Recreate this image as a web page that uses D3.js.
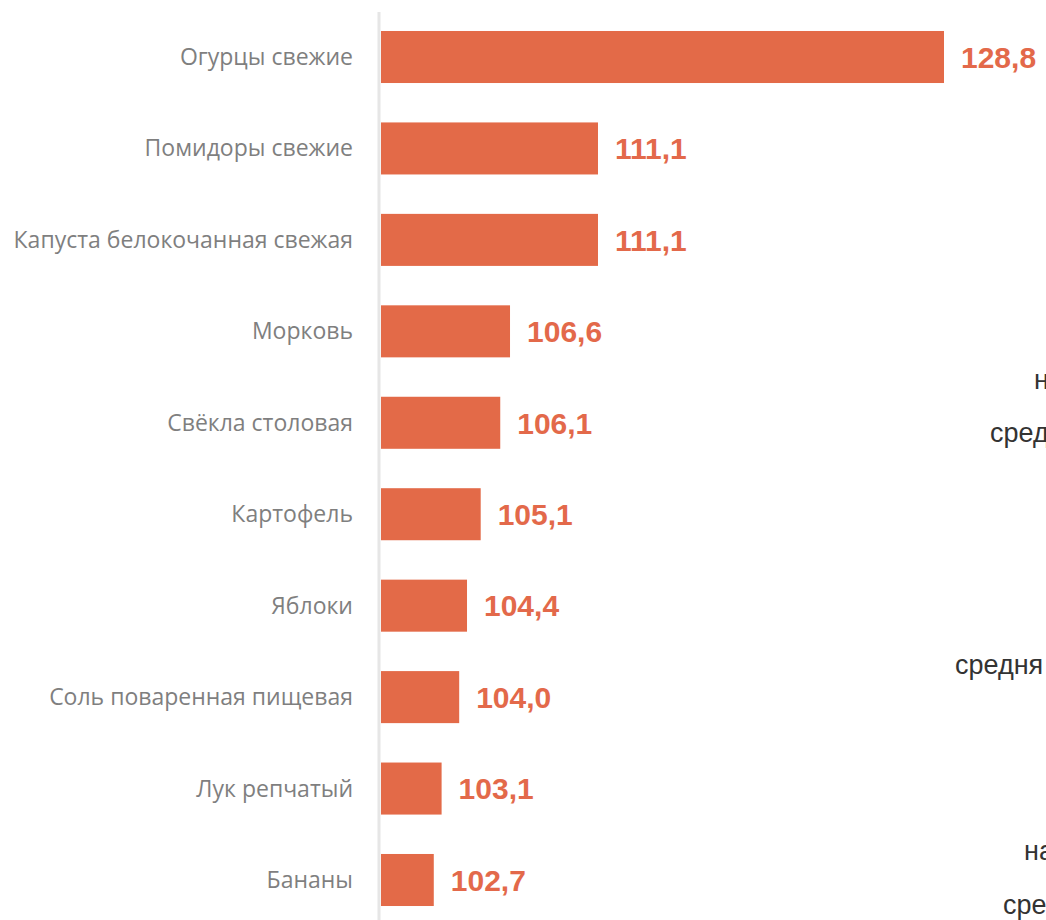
<!DOCTYPE html>
<html><head><meta charset="utf-8">
<script src="https://cdn.jsdelivr.net/npm/d3@7"></script>
<style>html,body{margin:0;padding:0;background:#fff;overflow:hidden}</style>
</head><body>
<svg id="c" width="1046" height="920"></svg>
<script>
const categories = ["Огурцы свежие","Помидоры свежие","Капуста белокочанная свежая","Морковь","Свёкла столовая","Картофель","Яблоки","Соль поваренная пищевая","Лук репчатый","Бананы"];
const values = [128.8,111.1,111.1,106.6,106.1,105.1,104.4,104.0,103.1,102.7];
const sideTexts = ["н","сред","средня","на","сре"];
const sideX = [1034,990,955,1024,1003];
const sideY = [380,433,665,851,905];

const svg = d3.select("#c");
const x = d3.scaleLinear().domain([100,128.8]).range([381,944]);
const y = d3.scaleBand().domain(categories).range([12.7,924.3]).paddingInner(0.431).paddingOuter(0.2);

svg.append("line").attr("x1",379).attr("x2",379).attr("y1",12).attr("y2",920)
  .attr("stroke","#e6e6e6").attr("stroke-width",3);

svg.selectAll("rect.bar").data(categories).join("rect").attr("class","bar")
  .attr("x",x(100)).attr("y",d=>y(d)).attr("width",(d,i)=>x(values[i])-x(100))
  .attr("height",y.bandwidth()).attr("fill","#e36a48");

svg.selectAll("text.cat").data(categories).join("text").attr("class","cat")
  .attr("x",353).attr("y",d=>y(d)+y.bandwidth()/2).attr("dy","0.35em")
  .attr("text-anchor","end").attr("font-family","'Open Sans', sans-serif")
  .attr("font-size",23).attr("fill","#7f7f7f").text(d=>d);

const fmt = v => v.toFixed(1).replace(".",",");
svg.selectAll("text.val").data(categories).join("text").attr("class","val")
  .attr("x",(d,i)=>x(values[i])+17).attr("y",d=>y(d)+y.bandwidth()/2).attr("dy","0.36em")
  .attr("font-family","'Liberation Sans', Arial, sans-serif").attr("font-weight","bold")
  .attr("font-size",30).attr("fill","#e3694a").text((d,i)=>fmt(values[i]));

svg.selectAll("text.side").data(sideTexts).join("text").attr("class","side")
  .attr("x",(d,i)=>sideX[i]).attr("y",(d,i)=>sideY[i]).attr("dy","0.35em")
  .attr("font-family","'Liberation Sans', Arial, sans-serif")
  .attr("font-size",27).attr("fill","#333").text(d=>d);
</script>
</body></html>
